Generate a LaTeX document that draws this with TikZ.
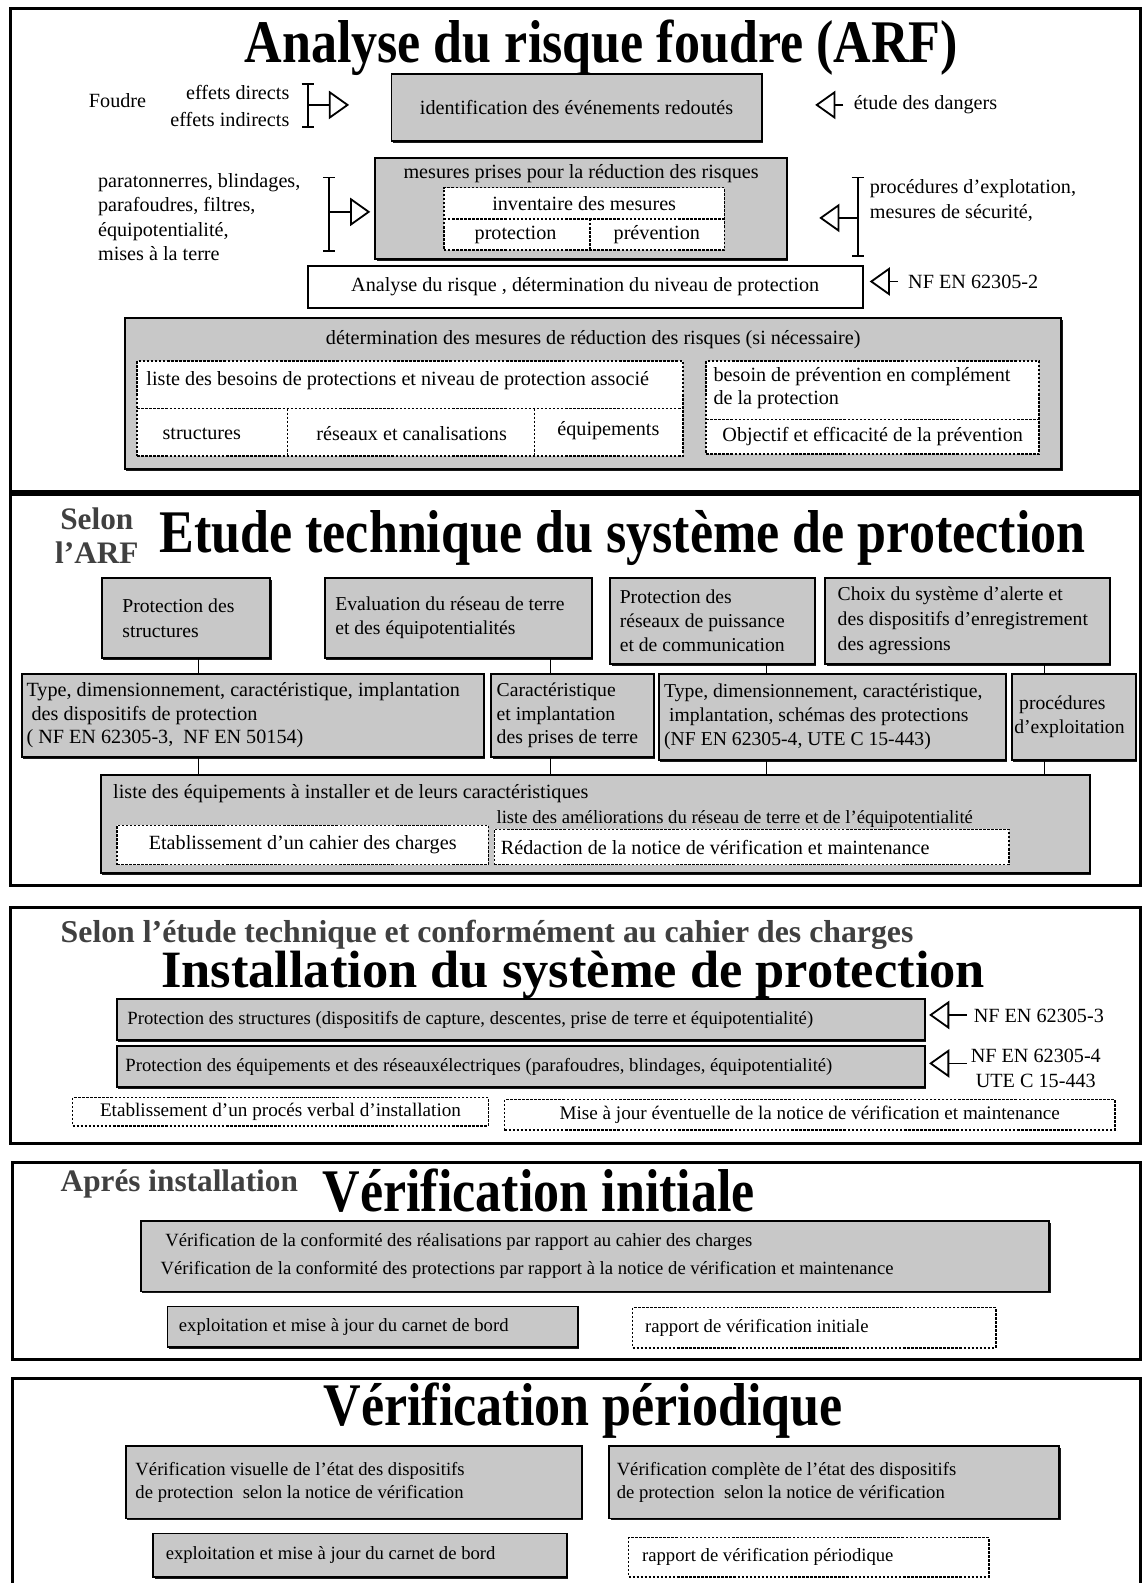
\documentclass[tikz,border=0pt]{standalone}
\usepackage{fontspec}
\setmainfont{Liberation Serif}
\newfontfamily\ttlfont[FakeStretch=0.86]{Liberation Serif}
\usetikzlibrary{arrows.meta,shadows}
\definecolor{boxgray}{HTML}{C8C8C8}
\definecolor{subgray}{HTML}{404040}
\newcommand\fsz[2]{\fontsize{#1}{#2}\selectfont}
\begin{document}
\begin{tikzpicture}[x=1pt,y=-1pt,
 sect/.style={draw=black,line width=3pt},
 gbox/.style={draw=black,fill=boxgray,line width=1.8pt,inner sep=0pt,drop shadow={shadow xshift=1.2pt,shadow yshift=-1.8pt,fill=black,opacity=0.9}},
 wbox/.style={draw=black,fill=white,line width=1.8pt,inner sep=0pt},
 dbox/.style={draw=black,fill=white,line width=1.5pt,inner sep=0pt,dash pattern=on 2.5pt off 1.5pt},
 divl/.style={draw=black,line width=1.5pt,dash pattern=on 2.5pt off 1.5pt},
 tx/.style={inner sep=0pt,font=\fsz{20}{24}},
 ts/.style={inner sep=0pt,font=\fsz{18.5}{28}},
 ttl/.style={inner sep=0pt,font=\ttlfont\bfseries\fsz{60}{66}},
 ttlb/.style={inner sep=0pt,font=\bfseries\fsz{52}{60}},
 sub/.style={inner sep=0pt,text=subgray,font=\bfseries\fsz{31}{33}},
 openarr/.style={line width=1.8pt,-{Triangle[length=20pt,width=28pt,line width=1.8pt,fill=white]}},
 bracket/.style={line width=1.8pt,{Bar[width=12pt]}-{Bar[width=12pt]}},
 conn/.style={line width=1.2pt},
]
\useasboundingbox (0,0) rectangle (1134,1569);
\fill[white] (0,0) rectangle (1134,1569);

% ---------------- Section 1 ----------------
\draw[sect] (10,8) rectangle (1130,487);
\node[ttl,anchor=base] (t1) at (596,62) {Analyse du risque foudre (ARF)};

\node[tx,anchor=west] (foudre) at (88,100) {Foudre};
\node[tx,anchor=east,align=right,font=\fsz{20}{26}] (effets) at (287,105) {effets directs\\effets indirects};
\coordinate (b1t) at (305,82); \coordinate (b1b) at (305,127);
\coordinate (b1m) at (305,104); \coordinate (b1e) at (346,104);
\draw[bracket] (b1t) -- (b1b);
\draw[openarr] (b1m) -- (b1e);

\node[gbox,minimum width=367,minimum height=67,tx] (A) at (571.5,106.5) {identification des événements redoutés};
\coordinate (e1) at (836,104); \coordinate (e1t) at (808,104);
\draw[openarr] (e1) -- (e1t);
\node[tx,anchor=west] (etude) at (846,104) {étude des dangers};

\node[tx,anchor=north west,align=left] (para) at (97,172) {paratonnerres, blindages,\\parafoudres, filtres,\\équipotentialité,\\mises à la terre};
\coordinate (b2t) at (326,175); \coordinate (b2b) at (326,250);
\coordinate (b2m) at (326,210); \coordinate (b2e) at (367,210);
\draw[bracket] (b2t) -- (b2b);
\draw[openarr] (b2m) -- (b2e);

\node[gbox,minimum width=408,minimum height=100] (B) at (576,207) {};
\node[tx] (Bt) at (576,172) {mesures prises pour la réduction des risques};
\node[dbox,minimum width=278,minimum height=62] (B0) at (579,217) {};
\draw[divl] (440,217) -- (718,217);
\draw[divl] (585,217) -- (585,248);
\node[tx] (inv) at (579,202) {inventaire des mesures};
\node[tx] (prot) at (511,233) {protection};
\node[tx] (prev) at (651,233) {prévention};

\coordinate (b3t) at (850,175); \coordinate (b3b) at (850,255);
\coordinate (b3m) at (850,216); \coordinate (b3e) at (812,216);
\draw[bracket] (b3t) -- (b3b);
\draw[openarr] (b3m) -- (b3e);
\node[tx,anchor=north west,align=left] (proc) at (862,178) {procédures d'explotation,\\mesures de sécurité,};

\node[wbox,minimum width=550,minimum height=41,tx] (C) at (580,284.5) {Analyse du risque , détermination du niveau de protection};
\coordinate (e2) at (890,279); \coordinate (e2t) at (862,279);
\draw[openarr] (e2) -- (e2t);
\node[tx,anchor=west] (nf2) at (900,279) {NF EN 62305-2};

\node[gbox,minimum width=928,minimum height=150] (D) at (588,390) {};
\node[tx] (Dt) at (588,337) {détermination des mesures de réduction des risques (si nécessaire)};
\node[dbox,minimum width=541,minimum height=94] (E) at (406.5,405) {};
\draw[divl] (136,405) -- (677,405);
\draw[divl] (285,405) -- (285,452);
\draw[divl] (530,405) -- (530,452);
\node[tx,anchor=west] (Et) at (145,377) {liste des besoins de protections et niveau de protection associé};
\node[tx] (str) at (200,430) {structures};
\node[tx] (res) at (408,430) {réseaux et canalisations};
\node[tx] (equ) at (603,427) {équipements};
\node[dbox,minimum width=330,minimum height=92] (F) at (865,404) {};
\draw[divl] (700,416) -- (1030,416);
\node[tx,anchor=north west,align=left,font=\fsz{20}{23}] (Ft) at (707,364) {besoin de prévention en complément\\de la protection};
\node[tx] (obj) at (865,433) {Objectif et efficacité de la prévention};

% ---------------- Section 2 ----------------
\draw[sect] (10,490) rectangle (1130,878);
\node[sub,align=center] (selon) at (96,531) {Selon\\l'ARF};
\node[ttl,anchor=base] (t2) at (617,548) {Etude technique du système de protection};

\node[gbox,minimum width=167,minimum height=79] (G1) at (184.5,612.5) {};
\node[tx,anchor=west,align=left,font=\fsz{19.5}{25}] (G1t) at ([xshift=21pt]G1.west) {Protection des\\structures};
\node[gbox,minimum width=265,minimum height=79] (G2) at (454.5,612.5) {};
\node[tx,anchor=west,align=left,font=\fsz{19.5}{24}] (G2t) at ([xshift=11pt]G2.west) {Evaluation du réseau de terre\\et des équipotentialités};
\node[gbox,minimum width=203,minimum height=85] (G3) at (706.5,615.5) {};
\node[tx,anchor=west,align=left,font=\fsz{19.5}{24}] (G3t) at ([xshift=10pt]G3.west) {Protection des\\réseaux de puissance\\et de communication};
\node[gbox,minimum width=282,minimum height=85] (G4) at (959,615.5) {};
\node[tx,anchor=west,align=left,font=\fsz{19.5}{25}] (G4t) at ([xshift=13pt]G4.west) {Choix du système d'alerte et\\des dispositifs d'enregistrement\\des agressions};

\node[gbox,minimum width=458,minimum height=82] (H1) at (251,709) {};
\node[tx,anchor=west,align=left,font=\fsz{20}{23.5}] (H1t) at ([xshift=5pt]H1.west) {Type, dimensionnement, caractéristique, implantation\\\ des dispositifs de protection\\( NF EN 62305-3,\ \ NF EN 50154)};
\node[gbox,minimum width=161,minimum height=82] (H2) at (567.5,709) {};
\node[tx,anchor=west,align=left,font=\fsz{19.5}{23.5}] (H2t) at ([xshift=6pt]H2.west) {Caractéristique\\et implantation\\des prises de terre};
\node[gbox,minimum width=344,minimum height=85] (H3) at (825,710.5) {};
\node[tx,anchor=west,align=left,font=\fsz{19.5}{23.5}] (H3t) at ([xshift=6pt]H3.west) {Type, dimensionnement, caractéristique,\\\ implantation, schémas des protections\\(NF EN 62305-4, UTE C 15-443)};
\node[gbox,minimum width=123,minimum height=85] (H4) at (1064.5,710.5) {};
\node[tx,anchor=west,align=left,font=\fsz{19.5}{24}] (H4t) at ([xshift=3pt]H4.west) {\ procédures\\d'exploitation};

\node[gbox,minimum width=980,minimum height=97] (I) at (590,816.5) {};
\coordinate (k1) at (197,0); \coordinate (k2) at (546,0);
\coordinate (k3) at (760,0); \coordinate (k4) at (1035,0);
\draw[conn] (G1.south -| k1) -- (H1.north -| k1);
\draw[conn] (G2.south -| k2) -- (H2.north -| k2);
\draw[conn] (G3.south -| k3) -- (H3.north -| k3);
\draw[conn] (G4.south -| k4) -- (H4.north -| k4);
\draw[conn] (H1.south -| k1) -- (I.north -| k1);
\draw[conn] (H2.south -| k2) -- (I.north -| k2);
\draw[conn] (H3.south -| k3) -- (I.north -| k3);
\draw[conn] (H4.south -| k4) -- (I.north -| k4);
\node[tx,anchor=west] (It) at (112,787) {liste des équipements à installer et de leurs caractéristiques};
\node[dbox,minimum width=368,minimum height=39,tx] (J) at (300,837.5) {Etablissement d'un cahier des charges};
\node[tx,anchor=west,font=\fsz{18.5}{22}] (amel) at (492,812) {liste des améliorations du réseau de terre et de l'équipotentialité};
\node[dbox,minimum width=510,minimum height=35] (K) at (745,839.5) {};
\node[tx,anchor=west] (Kt) at ([xshift=7pt]K.west) {Rédaction de la notice de vérification et maintenance};

% ---------------- Section 3 ----------------
\draw[sect] (10,899) rectangle (1130,1133);
\node[sub,anchor=base west,font=\bfseries\fsz{31.5}{33}] (sel2) at (60,934) {Selon l'étude technique et conformément au cahier des charges};
\node[ttlb,anchor=base] (t3) at (568,979) {Installation du système de protection};
\node[gbox,minimum width=801,minimum height=40] (L1) at (516.5,1010.5) {};
\node[ts,anchor=west] (L1t) at ([xshift=11pt]L1.west) {Protection des structures (dispositifs de capture, descentes, prise de terre et équipotentialité)};
\node[gbox,minimum width=801,minimum height=41] (L2) at (516.5,1057) {};
\node[ts,anchor=west] (L2t) at ([xshift=9pt]L2.west) {Protection des équipements et des réseauxélectriques (parafoudres, blindages, équipotentialité)};
\coordinate (a3) at (958,1006); \coordinate (a4) at (958,1054);
\draw[openarr] (a3) -- ([xshift=3pt]L1.east |- a3);
\draw[openarr] (a4) -- ([xshift=3pt]L2.east |- a4);
\node[tx,anchor=west] (nf3) at (965,1007) {NF EN 62305-3};
\node[tx,anchor=west,align=center] (nf4) at (962,1059) {NF EN 62305-4\\UTE C 15-443};
\node[dbox,minimum width=412,minimum height=28,font=\fsz{19}{22}] (M1) at (278,1102) {Etablissement d'un procés verbal d'installation};
\node[dbox,minimum width=605,minimum height=30,font=\fsz{19}{22}] (M2) at (802.5,1105) {Mise à jour éventuelle de la notice de vérification et maintenance};

% ---------------- Section 4 ----------------
\draw[sect] (12,1152) rectangle (1130,1347);
\node[sub,anchor=base west] (apres) at (60,1181) {Aprés installation};
\node[ttl,anchor=base] (t4) at (534,1201) {Vérification initiale};
\node[gbox,minimum width=900,minimum height=70] (N) at (590,1245) {};
\node[ts,anchor=west,align=left] (Nt) at ([xshift=20pt]N.west) {\ Vérification de la conformité des réalisations par rapport au cahier des charges\\Vérification de la conformité des protections par rapport à la notice de vérification et maintenance};
\node[gbox,minimum width=407,minimum height=40] (O1) at (369.5,1315) {};
\node[ts,anchor=west] (O1t) at ([xshift=12pt]O1.west) {exploitation et mise à jour du carnet de bord};
\node[dbox,minimum width=360,minimum height=40] (O2) at (807,1316) {};
\node[ts,anchor=west] (O2t) at ([xshift=13pt]O2.west) {rapport de vérification initiale};

% ---------------- Section 5 ----------------
\draw[sect] (12,1572) -- (12,1366) -- (1130,1366) -- (1130,1572);
\node[ttl,anchor=base] (t5) at (578,1413) {Vérification périodique};
\node[gbox,minimum width=452,minimum height=72] (P1) at (351,1469) {};
\node[ts,anchor=west,align=left,font=\fsz{18.5}{23}] (P1t) at ([xshift=10pt]P1.west) {Vérification visuelle de l'état des dispositifs\\de protection\ \ selon la notice de vérification};
\node[gbox,minimum width=446,minimum height=72] (P2) at (827,1469) {};
\node[ts,anchor=west,align=left,font=\fsz{18.5}{23}] (P2t) at ([xshift=8pt]P2.west) {Vérification complète de l'état des dispositifs\\de protection\ \ selon la notice de vérification};
\node[gbox,minimum width=410,minimum height=43] (Q1) at (357,1541.5) {};
\node[ts,anchor=west] (Q1t) at ([xshift=13pt]Q1.west) {exploitation et mise à jour du carnet de bord};
\node[dbox,minimum width=357,minimum height=39] (Q2) at (801.5,1543.5) {};
\node[ts,anchor=west] (Q2t) at ([xshift=14pt]Q2.west) {rapport de vérification périodique};
\end{tikzpicture}
\end{document}
